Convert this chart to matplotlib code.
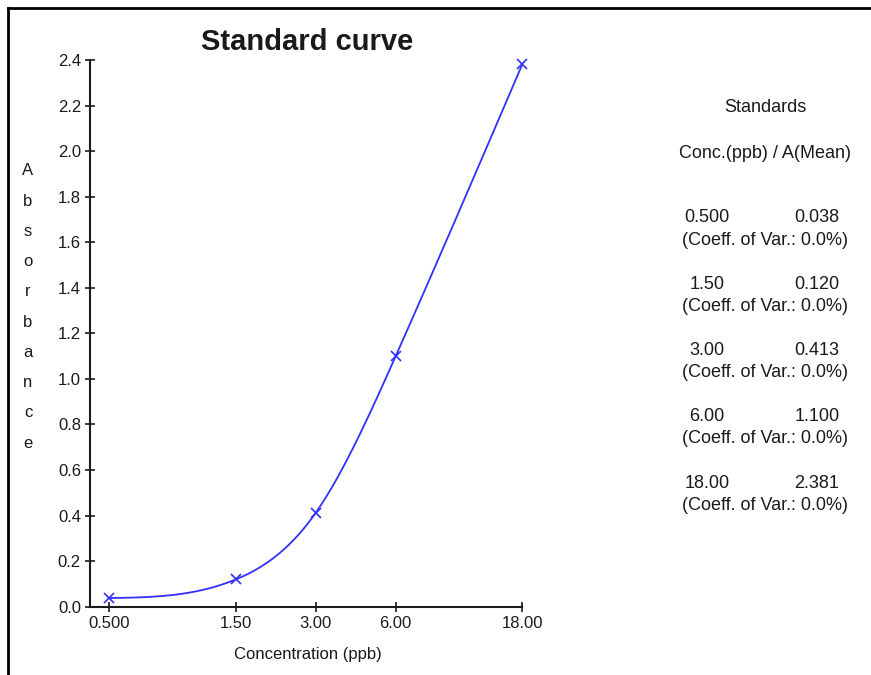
import numpy as np
import matplotlib
matplotlib.use("Agg")
import matplotlib.pyplot as plt
from matplotlib.lines import Line2D
from matplotlib.ticker import FixedLocator, NullLocator

plt.rcParams["font.family"] = ["Liberation Sans", "DejaVu Sans"]

# standards
conc = [0.5, 1.5, 3.0, 6.0, 18.0]
absorb = [0.038, 0.120, 0.413, 1.100, 2.381]
conc_labels = ["0.500", "1.50", "3.00", "6.00", "18.00"]
abs_labels = ["0.038", "0.120", "0.413", "1.100", "2.381"]
cv_labels = ["0.0%", "0.0%", "0.0%", "0.0%", "0.0%"]
y_ticks = [0.0, 0.2, 0.4, 0.6, 0.8, 1.0, 1.2, 1.4, 1.6, 1.8, 2.0, 2.2, 2.4]

BLUE = "#3030ff"
INK = "#1a1a1a"
FS = 12
FS_TABLE = 13


def natural_spline(x, y, xs):
    # natural cubic spline through the standards (curve fit shown by the software)
    x = np.asarray(x, float)
    y = np.asarray(y, float)
    n = len(x)
    h = np.diff(x)
    A = np.zeros((n, n))
    b = np.zeros(n)
    A[0, 0] = A[-1, -1] = 1
    for i in range(1, n - 1):
        A[i, i - 1] = h[i - 1]
        A[i, i] = 2 * (h[i - 1] + h[i])
        A[i, i + 1] = h[i]
        b[i] = 6 * ((y[i + 1] - y[i]) / h[i] - (y[i] - y[i - 1]) / h[i - 1])
    m = np.linalg.solve(A, b)
    out = np.empty_like(xs)
    for k, xv in enumerate(xs):
        i = min(max(np.searchsorted(x, xv) - 1, 0), n - 2)
        t1 = x[i + 1] - xv
        t0 = xv - x[i]
        out[k] = (m[i] * t1 ** 3 + m[i + 1] * t0 ** 3) / (6 * h[i]) \
            + (y[i] / h[i] - m[i] * h[i] / 6) * t1 \
            + (y[i + 1] / h[i] - m[i + 1] * h[i] / 6) * t0
    return out


fig = plt.figure(figsize=(8.71, 6.75), dpi=100, facecolor="white")
ax = fig.add_axes([90 / 871, 1 - 606.7 / 675, (522.3 - 90) / 871, (606.7 - 60) / 675])

u = np.log10(conc)
us = np.linspace(u[0], u[-1], 400)
ax.plot(10 ** us, natural_spline(u, absorb, us), color=BLUE, lw=1.3,
        clip_on=False)
ax.plot(conc, absorb, ls="none", marker="x", ms=7, mew=1.2, color=BLUE,
        clip_on=False)

ax.set_xscale("log")
ax.set_xlim(0.4226, 18)
ax.set_ylim(0, 2.4)
ax.xaxis.set_major_locator(FixedLocator(conc))
ax.xaxis.set_minor_locator(NullLocator())
ax.set_xticklabels(conc_labels)
ax.set_yticks(y_ticks)
ax.set_yticklabels([f"{v:.1f}" for v in y_ticks])
ax.tick_params(direction="inout", length=7, width=1.2, colors=INK,
               labelsize=FS, pad=3)
for side in ("top", "right"):
    ax.spines[side].set_visible(False)
for side in ("left", "bottom"):
    ax.spines[side].set_linewidth(1.5)
    ax.spines[side].set_color(INK)
    ax.spines[side].set_clip_on(False)

fig.text(307 / 871, 1 - 42 / 675, "Standard curve", ha="center", va="center",
         fontsize=21, fontweight="bold", color=INK)
fig.text(308 / 871, 1 - 655 / 675, "Concentration (ppb)", ha="center",
         va="center", fontsize=FS, color=INK)
fig.text(28 / 871, 1 - 307 / 675, "\n".join("Absorbance"), ha="center",
         va="center", fontsize=FS, color=INK, linespacing=2.27)

# standards table on the right
fig.text(765 / 871, 1 - 108 / 675, "Standards", ha="center", va="center",
         fontsize=FS_TABLE, color=INK)
fig.text(765 / 871, 1 - 153 / 675, "Conc.(ppb) / A(Mean)", ha="center",
         va="center", fontsize=FS_TABLE, color=INK)
for i, (c, a, cv) in enumerate(zip(conc_labels, abs_labels, cv_labels)):
    y0 = 218 + i * 66.3
    fig.text(707 / 871, 1 - y0 / 675, c, ha="center", va="center",
             fontsize=FS_TABLE, color=INK)
    fig.text(817 / 871, 1 - y0 / 675, a, ha="center", va="center",
             fontsize=FS_TABLE, color=INK)
    fig.text(765 / 871, 1 - (y0 + 22) / 675, f"(Coeff. of Var.: {cv})",
             ha="center", va="center", fontsize=FS_TABLE, color=INK)

# window frame
fig.add_artist(Line2D([8 / 871, 8 / 871], [0, 1 - 8 / 675],
                      transform=fig.transFigure, color="black", lw=2))
fig.add_artist(Line2D([8 / 871, 1], [1 - 8 / 675, 1 - 8 / 675],
                      transform=fig.transFigure, color="black", lw=2))

fig.savefig("out.png", dpi=100)
